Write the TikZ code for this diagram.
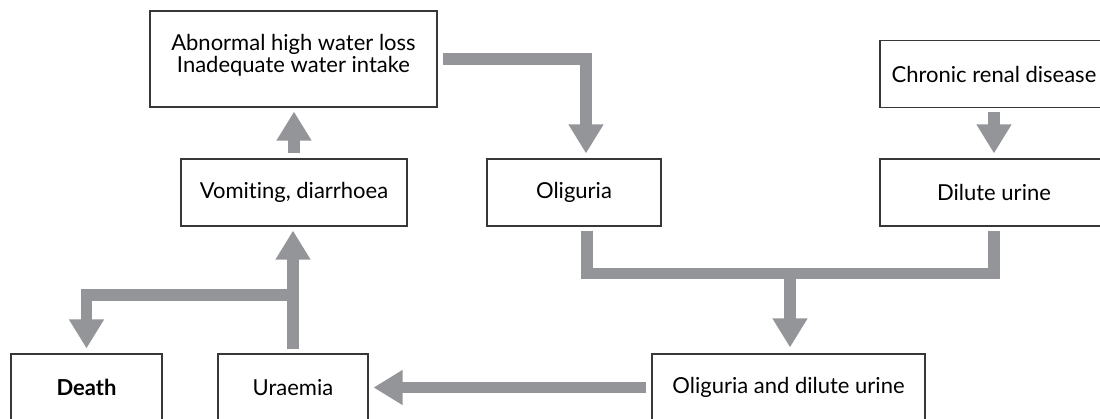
\documentclass[tikz,border=0pt]{standalone}
\usepackage{fontspec}
\setmainfont{Lato}[Ligatures=NoCommon]
\usetikzlibrary{arrows.meta}
\definecolor{flowgray}{RGB}{148,149,153}
\definecolor{edgegray}{RGB}{55,55,55}
\tikzset{
	box/.style={draw=edgegray, line width=0.8pt, inner sep=0pt, minimum height=50.25pt, font=\fontsize{16.5}{14}\selectfont},
	flow/.style={draw=flowgray, line width=8.6pt, line join=miter, -{Triangle[width=24.75pt,length=21.75pt]}},
	bar/.style={draw=flowgray, line width=8.6pt, line join=miter}
}

\begin{document}
\begin{tikzpicture}[x=0.75pt,y=-0.75pt]
		%%%%% FRAME %%%%%
		\useasboundingbox (0,0) rectangle (1100,418);
		\clip (0,0) rectangle (1100,418);
		
		%%%%% BOXES %%%%%
		\node[box, minimum width=215.25pt, minimum height=72pt] (abn) at (293.5,59)
			{\raisebox{2pt}[\height][\depth]{\begin{tabular}{@{}c@{}}Abnormal high water loss\\Inadequate water intake\end{tabular}}};
		\node[box, minimum width=169.5pt] (vom) at (294,192.5) {Vomiting, diarrhoea};
		\node[box, minimum width=130.5pt] (olig) at (574,192.5) {Oliguria};
		\node[box, minimum width=171pt] (crd) at (994,74) {Chronic renal disease};
		\node[box, minimum width=171pt] (dil) at (994,192.5) {Dilute urine};
		\node[box, minimum width=204.75pt] (oadu) at (788.5,387.5) {Oliguria and dilute urine};
		\node[box, minimum width=112.5pt] (ura) at (293,387.5) {Uraemia};
		\node[box, minimum width=113.25pt] (death) at (86.5,387.5) {\bfseries Death};
		
		\coordinate (join) at (790,273.5);
		\coordinate (fork) at (293,295);
		
		%%%%% ARROWS %%%%%
		\draw[flow, shorten <=3.75pt, shorten >=3pt] (vom.north) -- (vom.north |- abn.south);
		\draw[flow, shorten <=3.75pt, shorten >=3.75pt] (abn.east) -| ([xshift=9pt]olig.north);
		\draw[flow, shorten <=3pt, shorten >=3.75pt] (crd.south) -- (dil.north);
		
		\draw[bar] ([xshift=9.75pt,yshift=-3pt]olig.south) |- (dil.south |- join) -- ([yshift=-3pt]dil.south);
		\draw[flow, shorten >=4.5pt] (join) -- (join |- oadu.north);
		
		\draw[flow, shorten <=3.75pt, shorten >=3.75pt] (oadu.west) -- (ura.east);
		\draw[flow, shorten <=3pt, shorten >=3pt] (ura.north) -- (ura.north |- vom.south);
		\draw[flow, shorten >=3.75pt] (fork) -| (death.north);
		
\end{tikzpicture}
\end{document}
